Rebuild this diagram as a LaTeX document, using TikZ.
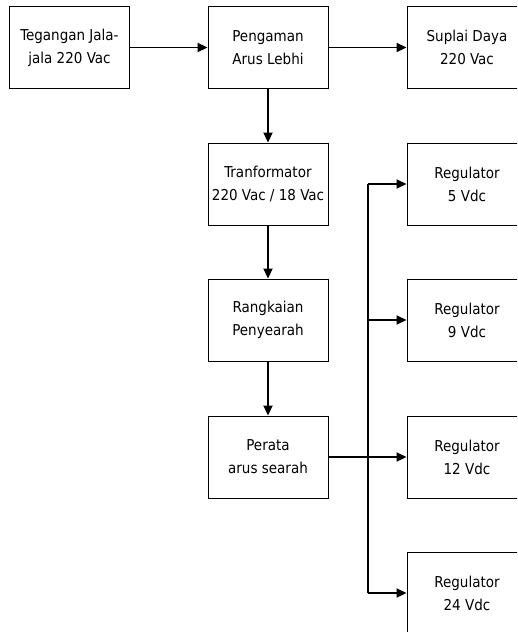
\documentclass[tikz,border=0pt]{standalone}
\usepackage{fontspec}
\setmainfont{DejaVu Sans Condensed}
\usetikzlibrary{arrows.meta}

\tikzset{
  blok/.style={draw=black, line width=0.9pt, minimum width=120pt, minimum height=82pt,
    inner sep=0pt, align=center, font=\fontsize{15}{23}\selectfont},
  panah/.style={line width=1.8pt, -{Triangle[length=10pt,width=9pt]}},
  garis/.style={line width=1.8pt}
}

\begin{document}
\begin{tikzpicture}[x=1pt,y=-1pt]
            \useasboundingbox (0,0) rectangle (517,632);
            \clip (0,0) rectangle (517,632);
            \node[blok] (jala) at (69.5,47.5) {Tegangan Jala-\\jala 220 Vac};
            \node[blok] (pengaman) at (268,47.5) {Pengaman\\Arus Lebhi};
            \node[blok] (suplai) at (467,47.5) {Suplai Daya\\220 Vac};
            \node[blok] (trafo) at (268,184) {Tranformator\\220 Vac / 18 Vac};
            \node[blok] (penyearah) at (268,320) {Rangkaian\\Penyearah};
            \node[blok] (perata) at (268,457) {Perata\\arus searah};
            \node[blok] (reg5) at (467,184) {Regulator\\5 Vdc};
            \node[blok] (reg9) at (467,320) {Regulator\\9 Vdc};
            \node[blok] (reg12) at (467,457) {Regulator\\12 Vdc};
            \node[blok] (reg24) at (467,593) {Regulator\\24 Vdc};
            \coordinate (bus) at (368,457);
            \draw[panah] (jala) -- (pengaman);
            \draw[panah] (pengaman) -- (suplai);
            \draw[panah] (pengaman) -- (trafo);
            \draw[panah] (trafo) -- (penyearah);
            \draw[panah] (penyearah) -- (perata);
            \draw[panah] (perata) -- (reg12);
            \draw[garis] (bus |- reg5.west) -- (bus |- reg24.west);
            \draw[panah] (bus |- reg5.west) -- (reg5.west);
            \draw[panah] (bus |- reg9.west) -- (reg9.west);
            \draw[panah] (bus |- reg24.west) -- (reg24.west);
\end{tikzpicture}
\end{document}
